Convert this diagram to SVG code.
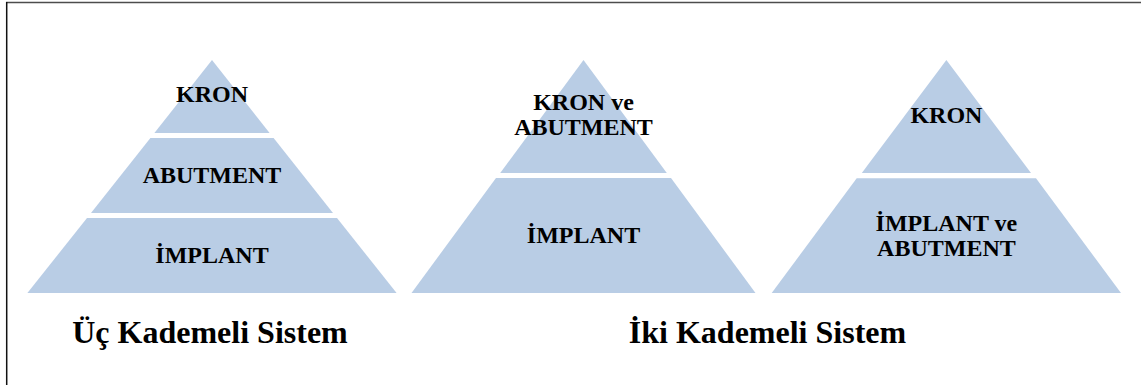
<svg xmlns="http://www.w3.org/2000/svg" width="1141" height="385" viewBox="0 0 1141 385">
<style>
.seg{fill:#b9cde5;stroke:none}
.lbl{font-family:"Liberation Serif","Times New Roman",serif;font-weight:bold;font-size:24px;fill:#000;text-anchor:middle}
.ttl{font-family:"Liberation Serif","Times New Roman",serif;font-weight:bold;font-size:32px;fill:#000;text-anchor:middle}
</style>
<rect width="1141" height="385" fill="#fff"/>
<line x1="6" y1="2.5" x2="1141" y2="2.5" stroke="#4d4d4d" stroke-width="1.6"/>
<line x1="6.7" y1="2" x2="6.7" y2="385" stroke="#111" stroke-width="1.5"/>
<g id="p1-kron">
<polygon class="seg" points="212,60 269.6,133 154.4,133"/>
<text class="lbl" x="212" y="101.7">KRON</text>
</g>
<g id="p1-abutment">
<polygon class="seg" points="150.4,138 273.6,138 333,213 91,213"/>
<text class="lbl" x="212" y="182.7">ABUTMENT</text>
</g>
<g id="p1-implant">
<polygon class="seg" points="87,218 337,218 396.6,293 27.4,293"/>
<text class="lbl" x="212" y="263.3">İMPLANT</text>
</g>
<g id="p2-kron-abutment">
<polygon class="seg" points="583.5,60 666.8,173 500.2,173"/>
<text class="lbl" x="583.5" y="110">KRON ve</text>
<text class="lbl" x="583.5" y="135">ABUTMENT</text>
</g>
<g id="p2-implant">
<polygon class="seg" points="496,178 671,178 755.5,293 411.5,293"/>
<text class="lbl" x="583.5" y="242.7">İMPLANT</text>
</g>
<g id="p3-kron">
<polygon class="seg" points="946.4,60 1031,173 861.8,173"/>
<text class="lbl" x="946.4" y="123.3">KRON</text>
</g>
<g id="p3-implant-abutment">
<polygon class="seg" points="856.7,178.3 1036,178.3 1121,293 771.7,293"/>
<text class="lbl" x="946.4" y="231">İMPLANT ve</text>
<text class="lbl" x="946.4" y="256">ABUTMENT</text>
</g>
<g id="title-uc">
<text class="ttl" x="210" y="342.7">Üç Kademeli Sistem</text>
</g>
<g id="title-iki">
<text class="ttl" x="767.5" y="342.7">İki Kademeli Sistem</text>
</g>
<g id="connectors"/>
</svg>
